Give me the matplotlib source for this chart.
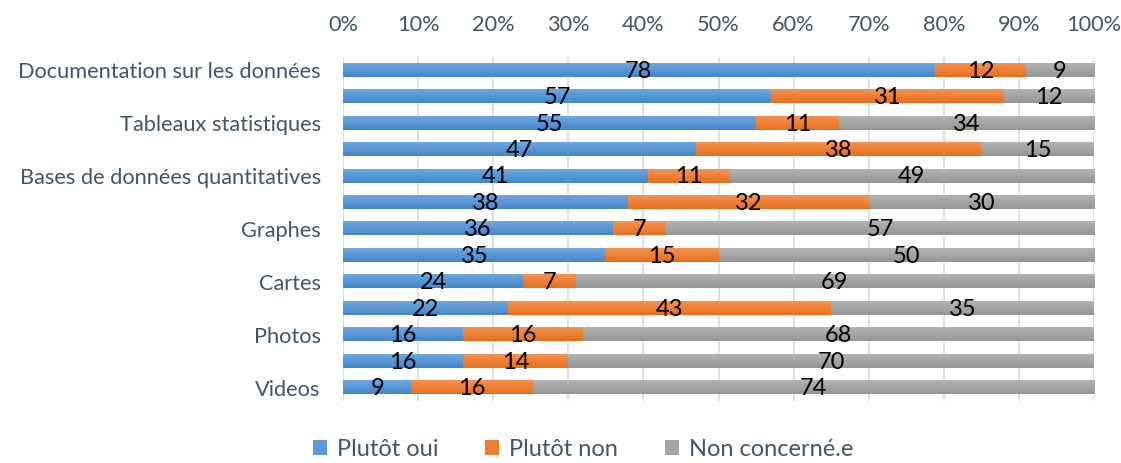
import numpy as np
import matplotlib
matplotlib.use("Agg")
import matplotlib.pyplot as plt
from matplotlib.colors import LinearSegmentedColormap
from matplotlib.patches import Patch

categories = ["Documentation sur les données", "", "Tableaux statistiques", "",
              "Bases de données quantitatives", "", "Graphes", "", "Cartes", "",
              "Photos", "", "Videos"]
oui = [78, 57, 55, 47, 41, 38, 36, 35, 24, 22, 16, 16, 9]
non = [12, 31, 11, 38, 11, 32, 7, 15, 7, 43, 16, 14, 16]
nc = [9, 12, 34, 15, 49, 30, 57, 50, 69, 35, 68, 70, 74]
series_names = ["Plutôt oui", "Plutôt non", "Non concerné.e"]
xticks = [0, 10, 20, 30, 40, 50, 60, 70, 80, 90, 100]

plt.rcParams['font.family'] = ['Lato', 'DejaVu Sans']

colors = ["#5B9BD5", "#ED7D31", "#A5A5A5"]
grads = [("#6CA8E0", "#4585CA"), ("#F59250", "#E66F1E"), ("#B3B3B3", "#959595")]

fig = plt.figure(figsize=(11.21, 4.63), dpi=100)
ax = fig.add_axes([343/1121, 1 - 401/463, (1094-343)/1121, (401-56.75)/463])

data = np.array([oui, non, nc], dtype=float)
totals = data.sum(axis=0)
pct = data / totals * 100
y = np.arange(len(categories))
left = np.zeros(len(categories))
for i in range(3):
    bars = ax.barh(y, pct[i], left=left, height=0.5, color=colors[i], zorder=2)
    cmap = LinearSegmentedColormap.from_list("g", [grads[i][0], grads[i][1]])
    grad = np.linspace(0, 1, 32).reshape(-1, 1)
    for b, v in zip(bars, data[i]):
        x0, y0 = b.get_x(), b.get_y()
        w, h = b.get_width(), b.get_height()
        ax.imshow(grad, cmap=cmap, extent=(x0, x0 + w, y0 + h, y0),
                  aspect='auto', zorder=3, interpolation='bilinear')
        ax.text(x0 + w / 2, y0 + h / 2 + 0.04, f"{int(v)}", ha='center', va='center',
                fontsize=17, color='black', zorder=4)
    left += pct[i]

ax.set_xlim(0, 100)
ax.set_ylim(len(categories) - 0.5, -0.5)
ax.set_yticks(y)
ax.set_yticklabels(categories, fontsize=15.7, color='#44546A')
ax.set_xticks(xticks)
ax.set_xticklabels([f"{t}%" for t in xticks], fontsize=15.7, color='#44546A')
ax.xaxis.tick_top()
ax.tick_params(axis='both', length=0)
ax.tick_params(axis='x', pad=16)
ax.tick_params(axis='y', pad=16)
for s in ax.spines.values():
    s.set_visible(False)
ax.grid(axis='x', color='#D9D9D9', linewidth=1.2, zorder=0)
ax.set_axisbelow(True)

handles = [Patch(facecolor=c, edgecolor='none') for c in colors]
fig.legend(handles, series_names, loc='lower center', ncol=3, frameon=False,
           fontsize=17, labelcolor='#44546A', bbox_to_anchor=(0.52, -0.04),
           handlelength=0.6, handleheight=0.6, handletextpad=0.4, columnspacing=2.0)

fig.savefig("out.png", dpi=100)
